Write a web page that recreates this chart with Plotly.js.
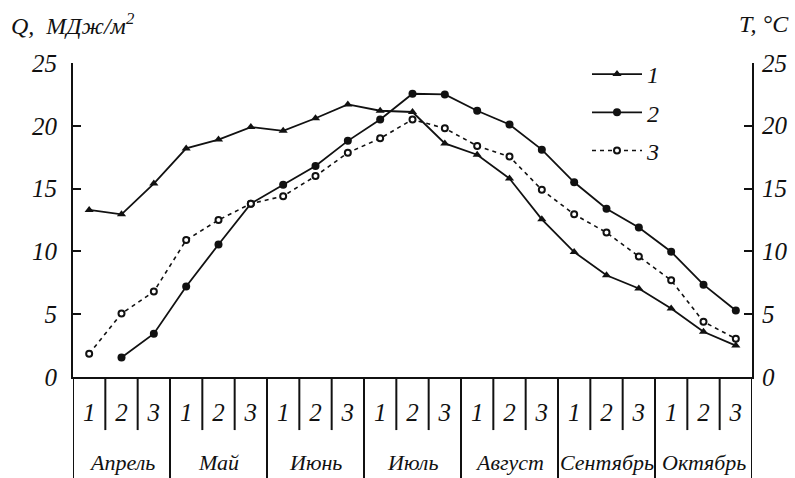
<!DOCTYPE html>
<html>
<head>
<meta charset="utf-8">
<script src="https://cdn.plot.ly/plotly-3.0.1.min.js"></script>
<style>html,body{margin:0;padding:0;background:#fff;}#chart{width:795px;height:478px;}</style>
</head>
<body>
<div id="chart"></div>
<script>
const months = ['Апрель', 'Май', 'Июнь', 'Июль', 'Август', 'Сентябрь', 'Октябрь'];
const decades = ['1', '2', '3'];
const seriesNames = ['1', '2', '3'];
const series1 = [13.3, 12.95, 15.4, 18.2, 18.9, 19.9, 19.6, 20.6, 21.7, 21.2, 21.1, 18.6, 17.7, 15.8, 12.55, 9.95, 8.1, 7.05, 5.45, 3.6, 2.5];
const series2 = [null, 1.55, 3.45, 7.2, 10.55, 13.8, 15.3, 16.8, 18.8, 20.5, 22.55, 22.5, 21.2, 20.1, 18.1, 15.5, 13.4, 11.9, 9.97, 7.35, 5.3];
const series3 = [1.85, 5.05, 6.8, 10.9, 12.5, 13.8, 14.4, 16.0, 17.85, 19.0, 20.5, 19.8, 18.4, 17.55, 14.9, 12.95, 11.5, 9.6, 7.7, 4.4, 3.05];
const yTicks = [0, 5, 10, 15, 20, 25];
const leftTitle = 'Q,&nbsp;&nbsp;МДж/м<sup>2</sup>';
const rightTitle = 'T,&nbsp;°C';

const cats = [];
const catText = [];
months.forEach(m => decades.forEach(d => { cats.push(m + ' ' + d); catText.push(d); }));

const FONT = 'Liberation Serif, Times New Roman, serif';
const C = '#111';
const tickFont = {family: FONT, size: 25, color: C, style: 'italic'};

const traces = [
  {x: cats, y: series1, name: seriesNames[0], mode: 'lines+markers', legendgroup: 'a',
   line: {color: C, width: 1.8}, marker: {symbol: 'triangle-up', size: 8, color: C}},
  {x: cats, y: series2, name: seriesNames[1], mode: 'lines+markers', legendgroup: 'b',
   line: {color: C, width: 1.8}, marker: {symbol: 'circle', size: 8, color: C}},
  {x: cats, y: series3, name: seriesNames[2], mode: 'lines+markers', legendgroup: 'c',
   line: {color: C, width: 1.6, dash: '4px,4px'},
   marker: {symbol: 'circle', size: 6, color: '#fff', line: {color: C, width: 2}}}
];

const shapes = [];
for (let k = 0; k <= cats.length; k++) {
  const isMonth = k % decades.length === 0;
  shapes.push({type: 'line', xref: 'x', yref: 'paper', x0: k - 0.5, x1: k - 0.5,
    y0: 0, y1: isMonth ? -0.33 : -0.169, line: {color: C, width: 2}});
}

const annotations = months.map((m, i) => ({
  text: m, xref: 'x', yref: 'paper', x: i * decades.length + 1, y: -0.271,
  xanchor: 'center', yanchor: 'middle', showarrow: false,
  font: {family: FONT, size: 22, color: C, style: 'italic'}
}));
yTicks.forEach(v => annotations.push({
  text: String(v), xref: 'paper', yref: 'y', x: 1, y: v, xshift: 8,
  xanchor: 'left', yanchor: 'middle', showarrow: false, font: tickFont
}));
annotations.push({text: leftTitle, xref: 'paper', yref: 'paper', x: -0.094, y: 1.125,
  xanchor: 'left', yanchor: 'middle', showarrow: false,
  font: {family: FONT, size: 24, color: C, style: 'italic'}});
annotations.push({text: rightTitle, xref: 'paper', yref: 'paper', x: 1.058, y: 1.125,
  xanchor: 'right', yanchor: 'middle', showarrow: false,
  font: {family: FONT, size: 24, color: C, style: 'italic'}});

const layout = {
  width: 795, height: 478,
  margin: {l: 73, r: 43, t: 63, b: 101},
  paper_bgcolor: '#fff', plot_bgcolor: '#fff',
  showlegend: true,
  legend: {x: 0.757, y: 1.035, xanchor: 'left', yanchor: 'top', bgcolor: 'rgba(0,0,0,0)',
    font: {family: FONT, size: 24, color: C, style: 'italic'},
    traceorder: 'grouped', tracegroupgap: 4, itemwidth: 50},
  xaxis: {type: 'category', range: [-0.5, cats.length - 0.5], tickvals: cats, ticktext: catText,
    ticks: '', showline: true, linecolor: C, linewidth: 2, showgrid: false,
    tickfont: tickFont, ticklabelstandoff: 12, fixedrange: true},
  yaxis: {range: [0, 25], tickvals: yTicks, ticks: 'inside', ticklen: 8, tickwidth: 2,
    tickcolor: C, showline: true, mirror: 'allticks', linecolor: C, linewidth: 2, showgrid: false,
    zeroline: false, tickfont: tickFont, ticklabelstandoff: 9, fixedrange: true},
  shapes: shapes,
  annotations: annotations
};

Plotly.newPlot('chart', traces, layout, {staticPlot: true, displayModeBar: false});
</script>
</body>
</html>
